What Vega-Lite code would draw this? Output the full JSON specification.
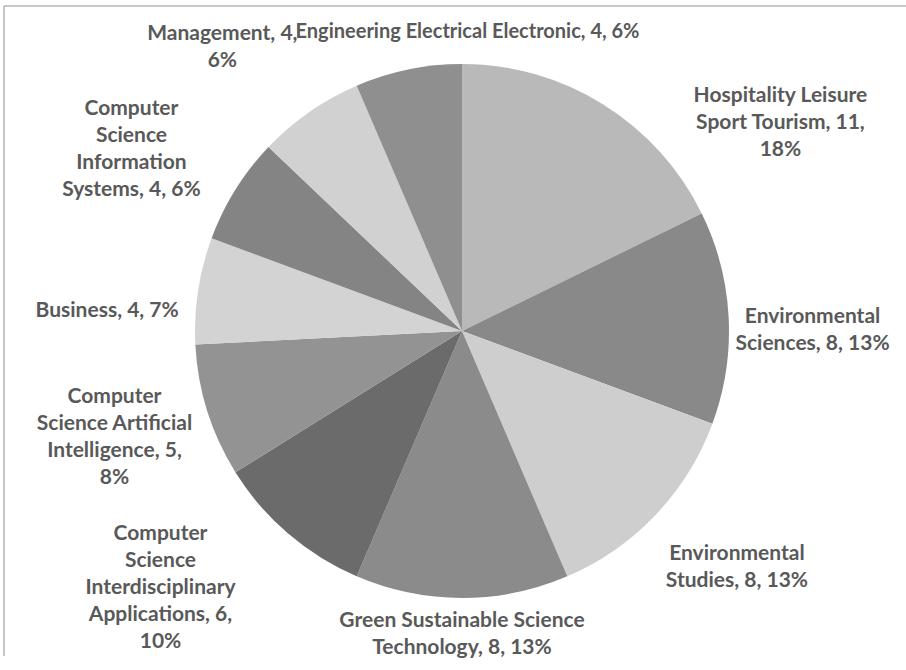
{
  "$schema": "https://vega.github.io/schema/vega-lite/v6.json",
  "width": 916,
  "height": 650,
  "autosize": {"type": "none"},
  "padding": {"left": 4, "top": 6, "right": -14, "bottom": 14},
  "background": "white",
  "config": {
    "view": {"stroke": null},
    "text": {"font": "Lato", "fontWeight": "bold", "fontSize": 21, "fill": "#595959", "lineBreak": "\n", "lineHeight": 27, "align": "center", "baseline": "middle"}
  },
  "data": {
    "values": [
      {"order": 1, "category": "Hospitality Leisure Sport Tourism", "count": 11, "pct": "18%", "label": "Hospitality Leisure\nSport Tourism, 11,\n18%"},
      {"order": 2, "category": "Environmental Sciences", "count": 8, "pct": "13%", "label": "Environmental\nSciences, 8, 13%"},
      {"order": 3, "category": "Environmental Studies", "count": 8, "pct": "13%", "label": "Environmental\nStudies, 8, 13%"},
      {"order": 4, "category": "Green Sustainable Science Technology", "count": 8, "pct": "13%", "label": "Green Sustainable Science\nTechnology, 8, 13%"},
      {"order": 5, "category": "Computer Science Interdisciplinary Applications", "count": 6, "pct": "10%", "label": "Computer\nScience\nInterdisciplinary\nApplications, 6,\n10%"},
      {"order": 6, "category": "Computer Science Artificial Intelligence", "count": 5, "pct": "8%", "label": "Computer\nScience Artificial\nIntelligence, 5,\n8%"},
      {"order": 7, "category": "Business", "count": 4, "pct": "7%", "label": "Business, 4, 7%"},
      {"order": 8, "category": "Computer Science Information Systems", "count": 4, "pct": "6%", "label": "Computer\nScience\nInformation\nSystems, 4, 6%"},
      {"order": 9, "category": "Management", "count": 4, "pct": "6%", "label": "Management, 4,\n6%"},
      {"order": 10, "category": "Engineering Electrical Electronic", "count": 4, "pct": "6%", "label": "Engineering Electrical Electronic, 4, 6%"}
    ]
  },
  "layer": [
    {
      "data": {"values": [{"edge": "top"}]},
      "mark": {"type": "rule", "color": "#8f8f8f", "strokeWidth": 1},
      "encoding": {"y": {"value": 0}}
    },
    {
      "data": {"values": [{"edge": "left"}]},
      "mark": {"type": "rule", "color": "#8f8f8f", "strokeWidth": 1},
      "encoding": {"x": {"value": 0}}
    },
    {
      "encoding": {
        "theta": {"field": "count", "type": "quantitative", "stack": true},
        "order": {"field": "order", "type": "quantitative"}
      },
      "layer": [
        {
          "mark": {"type": "arc", "outerRadius": 267},
          "encoding": {
            "color": {
              "field": "category", "type": "nominal", "legend": null,
              "scale": {
                "domain": ["Hospitality Leisure Sport Tourism", "Environmental Sciences", "Environmental Studies", "Green Sustainable Science Technology", "Computer Science Interdisciplinary Applications", "Computer Science Artificial Intelligence", "Business", "Computer Science Information Systems", "Management", "Engineering Electrical Electronic"],
                "range": ["#b9b9b9", "#898989", "#cecece", "#8b8b8b", "#6b6b6b", "#939393", "#d3d3d3", "#848484", "#d1d1d1", "#8f8f8f"]
              }
            }
          }
        },
        {"mark": {"type": "text", "radius": 360, "dx": 128, "dy": 71}, "encoding": {"text": {"condition": {"test": "datum.order === 1", "field": "label"}, "value": ""}}},
        {"mark": {"type": "text", "radius": 360, "dx": -9, "dy": 4}, "encoding": {"text": {"condition": {"test": "datum.order === 2", "field": "label"}, "value": ""}}},
        {"mark": {"type": "text", "radius": 360, "dx": 14, "dy": -25}, "encoding": {"text": {"condition": {"test": "datum.order === 3", "field": "label"}, "value": ""}}},
        {"mark": {"type": "text", "radius": 360, "dx": 0, "dy": -70}, "encoding": {"text": {"condition": {"test": "datum.order === 4", "field": "label"}, "value": ""}}},
        {"mark": {"type": "text", "radius": 360, "dx": -67, "dy": -70}, "encoding": {"text": {"condition": {"test": "datum.order === 5", "field": "label"}, "value": ""}}},
        {"mark": {"type": "text", "radius": 360, "dx": -4, "dy": -42}, "encoding": {"text": {"condition": {"test": "datum.order === 6", "field": "label"}, "value": ""}}},
        {"mark": {"type": "text", "radius": 360, "dx": 1, "dy": 35}, "encoding": {"text": {"condition": {"test": "datum.order === 7", "field": "label"}, "value": ""}}},
        {"mark": {"type": "text", "radius": 360, "dx": -25, "dy": -32}, "encoding": {"text": {"condition": {"test": "datum.order === 8", "field": "label"}, "value": ""}}},
        {"mark": {"type": "text", "radius": 360, "dx": -34, "dy": -2}, "encoding": {"text": {"condition": {"test": "datum.order === 9", "field": "label"}, "value": ""}}},
        {"mark": {"type": "text", "radius": 360, "dx": 78, "dy": 54, "fontSize": 20}, "encoding": {"text": {"condition": {"test": "datum.order === 10", "field": "label"}, "value": ""}}}
      ]
    }
  ]
}
